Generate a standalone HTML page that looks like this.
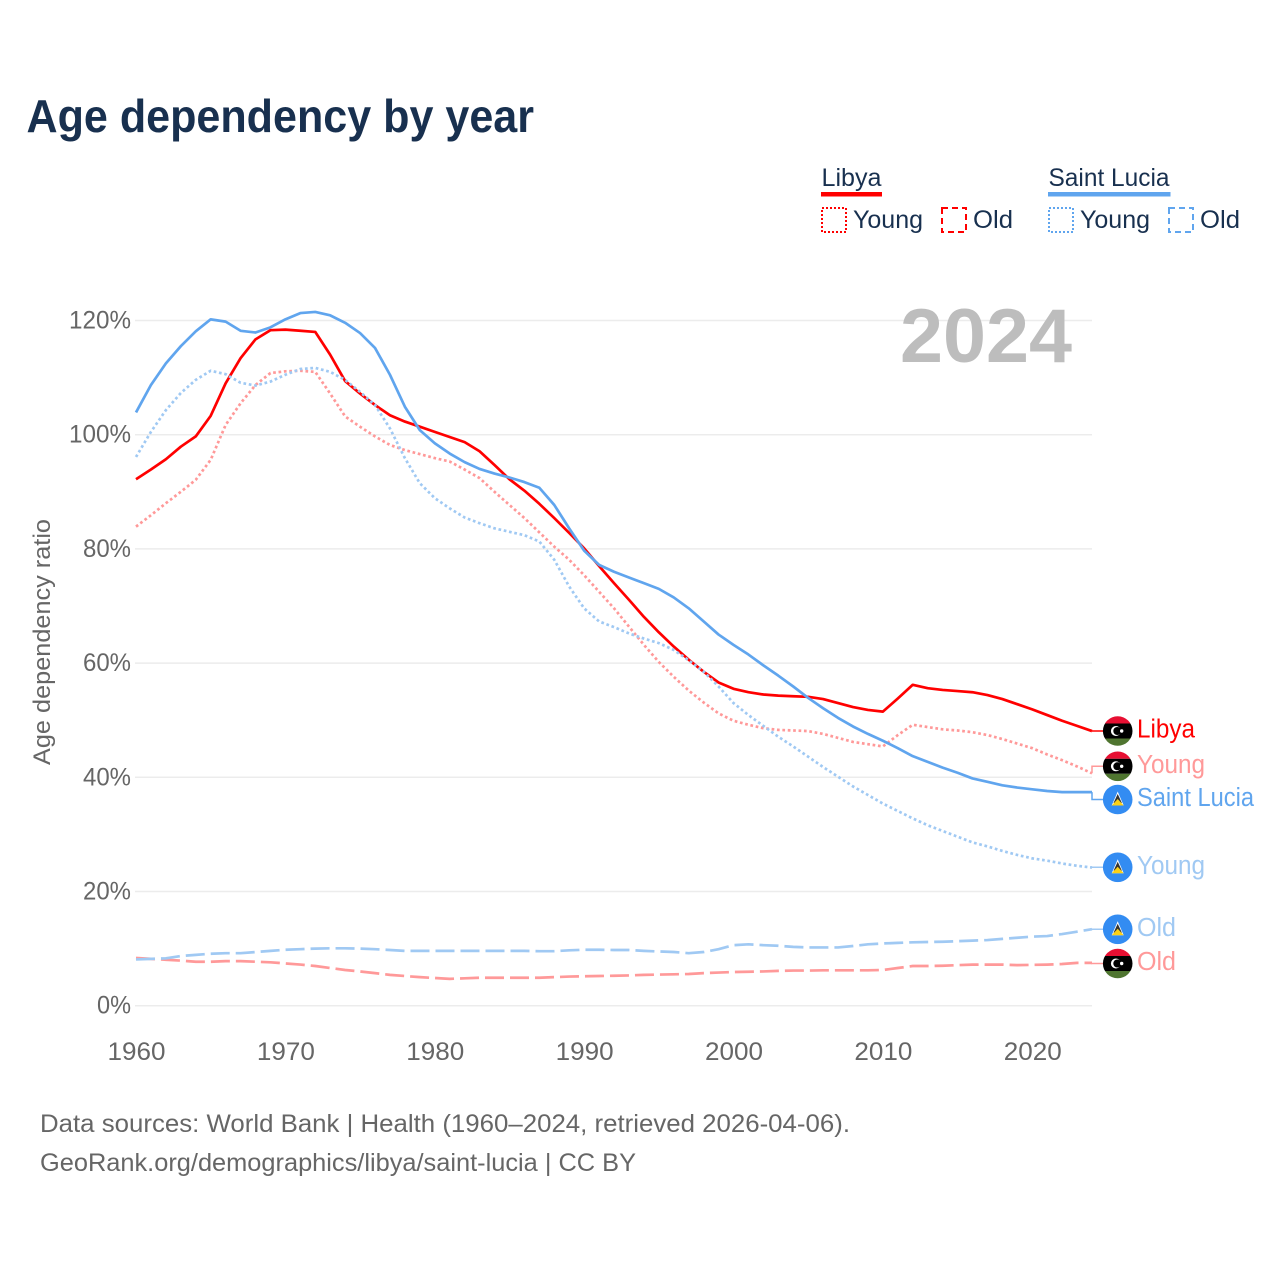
<!DOCTYPE html>
<html lang="en">
<head>
<meta charset="utf-8">
<title>Age dependency by year</title>
<style>
html,body{margin:0;padding:0;background:#fff;width:1280px;height:1280px;overflow:hidden}
svg{display:block}
text{font-family:"Liberation Sans",sans-serif}
</style>
</head>
<body>
<svg id="chart" xmlns="http://www.w3.org/2000/svg" width="1280" height="1280" viewBox="0 0 1280 1280">
  <defs>
    <clipPath id="flag-clip"><circle cx="0" cy="0" r="14.8"/></clipPath>
    <symbol id="flag-libya" overflow="visible">
      <g clip-path="url(#flag-clip)">
        <rect x="-15" y="-15" width="30" height="7.5" fill="#e70f32"/>
        <rect x="-15" y="-7.5" width="30" height="15" fill="#000"/>
        <rect x="-15" y="7.5" width="30" height="7.5" fill="#4f7530"/>
        <circle cx="-1.8" cy="0" r="5" fill="#fff"/>
        <circle cx="-0.4" cy="0" r="4" fill="#000"/>
        <circle cx="4" cy="0" r="1.7" fill="#fff"/>
      </g>
    </symbol>
    <symbol id="flag-lucia" overflow="visible">
      <g clip-path="url(#flag-clip)">
        <rect x="-15" y="-15" width="30" height="30" fill="#338cf2"/>
        <polygon points="0,-8 6,6 -6,6" fill="#fff"/>
        <polygon points="0,-5.5 4.2,3.5 -4.2,3.5" fill="#333"/>
        <polygon points="0,-0.5 6,6 -6,6" fill="#fcd116"/>
      </g>
    </symbol>
  </defs>

  <text x="26.5" y="132" font-size="46" font-weight="700" fill="#18304f" textLength="507.5" lengthAdjust="spacingAndGlyphs">Age dependency by year</text>

  <g>
    <g>
      <text x="821.5" y="186" font-size="25" fill="#18304f" textLength="60" lengthAdjust="spacingAndGlyphs">Libya</text>
      <rect x="821" y="192" width="61" height="4.5" fill="#ff0000"/>
      <rect x="822" y="208" width="24" height="24" fill="none" stroke="#ff0000" stroke-width="2" stroke-dasharray="2,2"/>
      <text x="853" y="228" font-size="25" fill="#18304f" textLength="70" lengthAdjust="spacingAndGlyphs">Young</text>
      <rect x="942" y="208" width="24" height="24" fill="none" stroke="#ff0000" stroke-width="2" stroke-dasharray="6,4"/>
      <text x="973" y="228" font-size="25" fill="#18304f" textLength="40" lengthAdjust="spacingAndGlyphs">Old</text>
    </g>
    <g>
      <text x="1048.5" y="186" font-size="25" fill="#18304f" textLength="121" lengthAdjust="spacingAndGlyphs">Saint Lucia</text>
      <rect x="1048" y="192" width="122.5" height="4.5" fill="#60a5ee"/>
      <rect x="1049" y="208" width="24" height="24" fill="none" stroke="#60a5ee" stroke-width="2" stroke-dasharray="2,2"/>
      <text x="1080" y="228" font-size="25" fill="#18304f" textLength="70" lengthAdjust="spacingAndGlyphs">Young</text>
      <rect x="1169" y="208" width="24" height="24" fill="none" stroke="#60a5ee" stroke-width="2" stroke-dasharray="6,4"/>
      <text x="1200" y="228" font-size="25" fill="#18304f" textLength="40" lengthAdjust="spacingAndGlyphs">Old</text>
    </g>
  </g>

  <g id="grid"></g>
  <g id="y-ticks"></g>
  <g id="x-ticks"></g>

  <text x="900" y="362" font-size="76" font-weight="700" fill="#bdbdbd" textLength="172" lengthAdjust="spacingAndGlyphs">2024</text>

  <text transform="translate(50,642) rotate(-90)" text-anchor="middle" font-size="24" fill="#666666" textLength="246" lengthAdjust="spacingAndGlyphs">Age dependency ratio</text>

  <g id="series"></g>
  <g id="end-labels"></g>

  <text x="40" y="1132" font-size="25" fill="#666666" textLength="810" lengthAdjust="spacingAndGlyphs">Data sources: World Bank | Health (1960–2024, retrieved 2026-04-06).</text>
  <text x="40" y="1171" font-size="25" fill="#666666" textLength="596" lengthAdjust="spacingAndGlyphs">GeoRank.org/demographics/libya/saint-lucia | CC BY</text>
</svg>

<script>
const years = [1960,1961,1962,1963,1964,1965,1966,1967,1968,1969,1970,1971,1972,1973,1974,1975,1976,1977,1978,1979,1980,1981,1982,1983,1984,1985,1986,1987,1988,1989,1990,1991,1992,1993,1994,1995,1996,1997,1998,1999,2000,2001,2002,2003,2004,2005,2006,2007,2008,2009,2010,2011,2012,2013,2014,2015,2016,2017,2018,2019,2020,2021,2022,2023,2024];

const libyaTotal = [92.2,93.9,95.7,97.9,99.7,103.3,109.0,113.4,116.7,118.3,118.4,118.2,118.0,114.0,109.4,107.2,105.2,103.4,102.3,101.4,100.5,99.6,98.7,97.1,94.7,92.2,90.2,87.9,85.4,82.8,80.1,77.0,74.0,71.1,68.1,65.4,62.9,60.6,58.5,56.6,55.5,54.9,54.5,54.3,54.2,54.1,53.7,53.0,52.3,51.8,51.5,53.8,56.2,55.6,55.3,55.1,54.9,54.4,53.7,52.8,51.9,50.9,49.9,49.0,48.1];

const libyaYoung = [83.9,85.9,88.0,90.0,92.1,95.6,101.7,105.5,108.7,110.8,111.1,111.2,111.0,107.2,103.2,101.4,99.7,98.2,97.3,96.6,95.9,95.3,93.9,92.4,90.0,87.7,85.4,82.9,80.4,78.1,75.4,72.5,69.6,66.4,63.2,60.2,57.6,55.2,53.1,51.2,49.9,49.2,48.6,48.3,48.2,48.1,47.6,46.9,46.2,45.8,45.4,47.4,49.2,48.8,48.4,48.2,47.9,47.4,46.7,45.9,45.1,44.0,43.0,41.9,40.7];

const libyaOld = [8.35,8.2,8.05,7.9,7.7,7.7,7.8,7.8,7.7,7.6,7.4,7.2,6.95,6.6,6.25,6.0,5.7,5.4,5.2,5.0,4.85,4.7,4.8,4.9,4.9,4.9,4.9,4.9,5.0,5.1,5.15,5.2,5.25,5.3,5.4,5.45,5.5,5.55,5.7,5.8,5.9,5.95,6.0,6.1,6.15,6.15,6.2,6.2,6.2,6.2,6.25,6.6,6.95,6.95,7.0,7.1,7.2,7.2,7.2,7.1,7.15,7.2,7.3,7.5,7.5];

const luciaTotal = [103.9,108.7,112.5,115.5,118.1,120.2,119.8,118.2,117.9,118.8,120.2,121.3,121.5,120.9,119.6,117.8,115.2,110.5,104.9,100.8,98.5,96.7,95.2,94.0,93.2,92.5,91.7,90.7,87.7,83.6,79.7,77.2,76.0,75.0,74.0,73.0,71.5,69.6,67.3,65.0,63.2,61.5,59.6,57.8,55.9,53.9,52.1,50.4,48.9,47.6,46.4,45.1,43.7,42.7,41.7,40.8,39.8,39.2,38.6,38.2,37.9,37.6,37.4,37.4,37.4];

const luciaYoung = [96.1,100.5,104.3,107.3,109.6,111.2,110.6,109.1,108.6,109.3,110.5,111.5,111.7,111.0,109.6,107.5,105.2,101.1,95.9,91.5,88.9,87.1,85.5,84.5,83.6,83.0,82.4,81.3,78.1,73.4,69.6,67.3,66.3,65.2,64.3,63.5,62.3,60.5,58.5,55.9,53.0,50.9,49.0,47.1,45.4,43.6,41.8,40.1,38.4,36.9,35.4,34.1,32.8,31.6,30.6,29.6,28.6,27.9,27.1,26.4,25.8,25.4,24.9,24.5,24.2];

const luciaOld = [8.1,8.2,8.3,8.7,8.9,9.1,9.2,9.2,9.4,9.6,9.8,9.9,10.0,10.05,10.05,10.0,9.9,9.75,9.6,9.6,9.6,9.6,9.6,9.6,9.6,9.6,9.6,9.55,9.55,9.7,9.8,9.8,9.75,9.75,9.6,9.5,9.4,9.2,9.4,9.9,10.6,10.75,10.6,10.5,10.3,10.2,10.2,10.2,10.45,10.75,10.9,11.0,11.1,11.15,11.2,11.3,11.4,11.5,11.7,11.9,12.1,12.2,12.55,12.96,13.4];

const xTickLabels = ["1960","1970","1980","1990","2000","2010","2020"];
const yTickLabels = ["0%","20%","40%","60%","80%","100%","120%"];
const yTickValues = [0,20,40,60,80,100,120];

const NS = "http://www.w3.org/2000/svg";
const X0 = 136, X1 = 1092, Y0 = 1005.7, Y120 = 320.5;
const firstYear = years[0], lastYear = years[years.length - 1];
function xScale(year) { return X0 + (year - firstYear) / (lastYear - firstYear) * (X1 - X0); }
function yScale(v) { return Y0 - v / 120 * (Y0 - Y120); }

function make(tag, attrs, parent, txt) {
  const el = document.createElementNS(NS, tag);
  for (const k in attrs) el.setAttribute(k, attrs[k]);
  if (txt !== undefined) el.textContent = txt;
  parent.appendChild(el);
  return el;
}

const gridG = document.getElementById("grid");
const yTickG = document.getElementById("y-ticks");
yTickValues.forEach(function (v, i) {
  const line = make("line", {x1: X0 - 1, x2: X1, y1: yScale(v), y2: yScale(v), stroke: "#ececec", "stroke-width": 1.5}, gridG);
  
  
  const label = yTickLabels[i];
  const t = make("text", {x: 131, y: yScale(v) + 8, "text-anchor": "end", "font-size": 25, fill: "#666666", textLength: label.length === 4 ? 62 : (label.length === 3 ? 48 : 34), lengthAdjust: "spacingAndGlyphs"}, yTickG, label);
  
  
});

const xTickG = document.getElementById("x-ticks");
xTickLabels.forEach(function (label) {
  const t = make("text", {x: xScale(Number(label)) + 0.5, y: 1060, "text-anchor": "middle", "font-size": 25, fill: "#666666", textLength: 58, lengthAdjust: "spacingAndGlyphs"}, xTickG, label);
  
  
});

const seriesG = document.getElementById("series");
function drawLine(values, color, dash, name) {
  const d = values.map(function (v, i) {
    return (i ? "L" : "M") + xScale(years[i]).toFixed(2) + " " + yScale(v).toFixed(2);
  }).join(" ");
  const p = make("path", {d: d, fill: "none", stroke: color, "stroke-width": 2.7, "stroke-linejoin": "round"}, seriesG);
  if (dash) p.setAttribute("stroke-dasharray", dash);
  
  
}

const DOT = "2.7,2.7", DASH = "19,6";
const RED = "#ff0000", PINK = "#ff9999", BLUE = "#60a5ee", LIGHT = "#a0c9f3";
drawLine(libyaTotal, RED, null, "line-libya-total");
drawLine(libyaYoung, PINK, DOT, "line-libya-young");
drawLine(libyaOld, PINK, DASH, "line-libya-old");
drawLine(luciaTotal, BLUE, null, "line-saint-lucia-total");
drawLine(luciaYoung, LIGHT, DOT, "line-saint-lucia-young");
drawLine(luciaOld, LIGHT, DASH, "line-saint-lucia-old");

const labelsG = document.getElementById("end-labels");
function endLabel(values, labelY, color, text, width, flag, name) {
  const yEnd = yScale(values[values.length - 1]);
  const leader = make("path", {d: "M" + X1 + " " + yEnd.toFixed(2) + " V" + labelY + " H1103", fill: "none", stroke: color, "stroke-width": 1.5}, labelsG);
  
  
  const icon = make("use", {href: "#" + flag, x: 1117.7, y: labelY}, labelsG);
  
  
  const t = make("text", {x: 1137, y: labelY + 6.5, "font-size": 25.5, fill: color, textLength: width, lengthAdjust: "spacingAndGlyphs"}, labelsG, text);
  
  
}
endLabel(libyaTotal, 731, RED, "Libya", 58, "flag-libya", "end-libya-total");
endLabel(libyaYoung, 766.3, PINK, "Young", 68, "flag-libya", "end-libya-young");
endLabel(luciaTotal, 799.5, BLUE, "Saint Lucia", 117, "flag-lucia", "end-saint-lucia-total");
endLabel(luciaYoung, 867.3, LIGHT, "Young", 68, "flag-lucia", "end-saint-lucia-young");
endLabel(luciaOld, 929.3, LIGHT, "Old", 39, "flag-lucia", "end-saint-lucia-old");
endLabel(libyaOld, 963.5, PINK, "Old", 39, "flag-libya", "end-libya-old");
</script>
</body>
</html>
